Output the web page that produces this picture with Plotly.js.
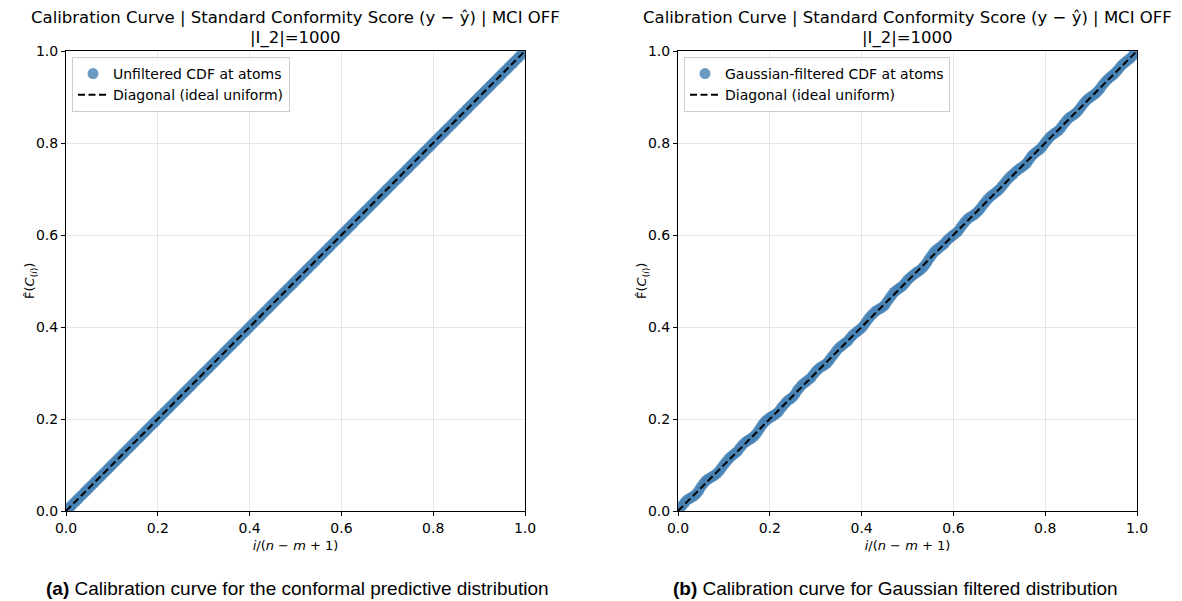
<!DOCTYPE html>
<html>
<head>
<meta charset="utf-8">
<script src="https://cdn.plot.ly/plotly-3.0.1.min.js"></script>
<style>html,body{margin:0;padding:0;background:#fff;}#chart{width:1182px;height:601px;}</style>
</head>
<body>
<div id="chart"></div>
<script>
// Levels i/(n-m+1) at which the CDFs are read (both panels)
const levels = [0.000,0.005,0.010,0.015,0.020,0.025,0.030,0.035,0.040,0.045,0.050,0.055,0.060,0.065,0.070,0.075,0.080,0.085,0.090,0.095,
0.100,0.105,0.110,0.115,0.120,0.125,0.130,0.135,0.140,0.145,0.150,0.155,0.160,0.165,0.170,0.175,0.180,0.185,0.190,0.195,
0.200,0.205,0.210,0.215,0.220,0.225,0.230,0.235,0.240,0.245,0.250,0.255,0.260,0.265,0.270,0.275,0.280,0.285,0.290,0.295,
0.300,0.305,0.310,0.315,0.320,0.325,0.330,0.335,0.340,0.345,0.350,0.355,0.360,0.365,0.370,0.375,0.380,0.385,0.390,0.395,
0.400,0.405,0.410,0.415,0.420,0.425,0.430,0.435,0.440,0.445,0.450,0.455,0.460,0.465,0.470,0.475,0.480,0.485,0.490,0.495,
0.500,0.505,0.510,0.515,0.520,0.525,0.530,0.535,0.540,0.545,0.550,0.555,0.560,0.565,0.570,0.575,0.580,0.585,0.590,0.595,
0.600,0.605,0.610,0.615,0.620,0.625,0.630,0.635,0.640,0.645,0.650,0.655,0.660,0.665,0.670,0.675,0.680,0.685,0.690,0.695,
0.700,0.705,0.710,0.715,0.720,0.725,0.730,0.735,0.740,0.745,0.750,0.755,0.760,0.765,0.770,0.775,0.780,0.785,0.790,0.795,
0.800,0.805,0.810,0.815,0.820,0.825,0.830,0.835,0.840,0.845,0.850,0.855,0.860,0.865,0.870,0.875,0.880,0.885,0.890,0.895,
0.900,0.905,0.910,0.915,0.920,0.925,0.930,0.935,0.940,0.945,0.950,0.955,0.960,0.965,0.970,0.975,0.980,0.985,0.990,0.995,1.000];

// Unfiltered CDF values: they sit on the diagonal
const unfilteredCdf = levels.slice();

// Gaussian-filtered CDF values (small wiggles about the diagonal)
const gaussianCdf = [0.000,0.007,0.013,0.019,0.024,0.027,0.030,0.033,0.037,0.044,0.052,0.059,0.065,0.069,0.072,0.075,0.078,0.082,0.087,0.094,
0.101,0.107,0.113,0.118,0.122,0.126,0.130,0.137,0.143,0.148,0.152,0.155,0.158,0.162,0.167,0.174,0.182,0.189,0.195,0.199,
0.203,0.206,0.209,0.212,0.217,0.224,0.230,0.236,0.241,0.244,0.248,0.254,0.262,0.268,0.274,0.278,0.282,0.286,0.290,0.297,
0.303,0.308,0.312,0.315,0.318,0.322,0.328,0.335,0.341,0.348,0.354,0.358,0.362,0.366,0.370,0.376,0.382,0.386,0.390,0.394,
0.398,0.404,0.411,0.418,0.424,0.429,0.434,0.437,0.440,0.443,0.447,0.454,0.461,0.468,0.475,0.479,0.483,0.486,0.490,0.496,
0.502,0.507,0.511,0.515,0.519,0.522,0.526,0.531,0.537,0.545,0.552,0.559,0.565,0.569,0.573,0.577,0.581,0.587,0.592,0.596,
0.600,0.604,0.608,0.615,0.622,0.628,0.634,0.638,0.641,0.644,0.648,0.653,0.659,0.666,0.672,0.678,0.683,0.687,0.691,0.695,
0.699,0.705,0.711,0.717,0.723,0.728,0.732,0.737,0.741,0.745,0.748,0.752,0.757,0.764,0.771,0.776,0.780,0.784,0.788,0.794,
0.801,0.807,0.813,0.817,0.821,0.824,0.828,0.834,0.841,0.847,0.853,0.857,0.860,0.864,0.868,0.874,0.881,0.887,0.893,0.897,
0.901,0.904,0.908,0.913,0.919,0.926,0.932,0.937,0.942,0.946,0.950,0.955,0.961,0.967,0.972,0.976,0.980,0.984,0.989,0.995,1.000];

const diagX = [0, 1];
const diagY = [0, 1];

const titleLine1 = "Calibration Curve | Standard Conformity Score (y \u2212 \u0177) | MCI OFF";
const titleLine2 = "|I_2|=1000";
const legendLeft = ["Unfiltered CDF at atoms", "Diagonal (ideal uniform)"];
const legendRight = ["Gaussian-filtered CDF at atoms", "Diagonal (ideal uniform)"];
const captionLeft = "<b>(a)</b> Calibration curve for the conformal predictive distribution";
const captionRight = "<b>(b)</b> Calibration curve for Gaussian filtered distribution";
const xTitle = "<i>i</i>/(<i>n</i> \u2212 <i>m</i> + 1)";
const yTitle = "F\u0302(<i>C</i><sub>(<i>i</i>)</sub>)";
const tickVals = [0, 0.2, 0.4, 0.6, 0.8, 1.0];
const tickText = ["0.0", "0.2", "0.4", "0.6", "0.8", "1.0"];

const W = 1182, H = 601;
const FONT = "DejaVu Sans, sans-serif";
const CAPFONT = "Liberation Sans, Arial, sans-serif";
const blue = "rgb(70,130,180)";

const pxX = p => p / W;
const pxY = p => 1 - p / H;

const markerStyle = {color: blue, size: 11, opacity: 0.8, line: {width: 0}};
const dashStyle = {color: "black", width: 2, dash: "7px,3.5px"};

const traces = [
  {x: levels, y: unfilteredCdf, type: "scatter", mode: "markers", name: legendLeft[0],
   marker: markerStyle, xaxis: "x", yaxis: "y", legend: "legend", hoverinfo: "skip"},
  {x: diagX, y: diagY, type: "scatter", mode: "lines", name: legendLeft[1],
   line: dashStyle, xaxis: "x", yaxis: "y", legend: "legend"},
  {x: levels, y: gaussianCdf, type: "scatter", mode: "markers", name: legendRight[0],
   marker: markerStyle, xaxis: "x2", yaxis: "y2", legend: "legend2", hoverinfo: "skip"},
  {x: diagX, y: diagY, type: "scatter", mode: "lines", name: legendRight[1],
   line: dashStyle, xaxis: "x2", yaxis: "y2", legend: "legend2"}
];

function axis(domain, anchor, titleText) {
  const a = {
    domain: domain, anchor: anchor, range: [0, 1], autorange: false,
    tickvals: tickVals, ticktext: tickText, ticks: "outside", ticklen: 4, tickwidth: 1, tickcolor: "black",
    showline: true, linecolor: "black", linewidth: 1, mirror: true,
    showgrid: true, gridcolor: "rgba(176,176,176,0.3)", gridwidth: 1, zeroline: false,
    tickfont: {family: FONT, size: 14, color: "black"}
  };
  if (titleText) a.title = {text: titleText, font: {family: FONT, size: 13, color: "black"}, standoff: 6};
  return a;
}

const xd1 = [pxX(66), pxX(525)], xd2 = [pxX(678), pxX(1137)];
const yd = [pxY(511), pxY(51)];

const legendBase = {
  bgcolor: "rgba(255,255,255,0.8)", bordercolor: "#cccccc", borderwidth: 1,
  font: {family: FONT, size: 14, color: "black"}, xanchor: "left", yanchor: "top",
  tracegroupgap: 0, itemwidth: 30
};

const annotations = [];
[295.5, 907.5].forEach(cx => {
  annotations.push({text: titleLine1, x: pxX(cx), y: pxY(18), xref: "paper", yref: "paper",
    showarrow: false, xanchor: "center", yanchor: "middle", font: {family: FONT, size: 16.5, color: "black"}});
  annotations.push({text: titleLine2, x: pxX(cx), y: pxY(38), xref: "paper", yref: "paper",
    showarrow: false, xanchor: "center", yanchor: "middle", font: {family: FONT, size: 16.5, color: "black"}});
});
// y-axis titles, rotated
[30, 642].forEach(cx => {
  annotations.push({text: yTitle, x: pxX(cx), y: pxY(281), xref: "paper", yref: "paper", textangle: -90,
    showarrow: false, xanchor: "center", yanchor: "middle", font: {family: FONT, size: 13, color: "black"}});
});
annotations.push({text: captionLeft, x: pxX(297.5), y: pxY(588), xref: "paper", yref: "paper",
  showarrow: false, xanchor: "center", yanchor: "middle", font: {family: CAPFONT, size: 19, color: "black"}});
annotations.push({text: captionRight, x: pxX(895.5), y: pxY(588), xref: "paper", yref: "paper",
  showarrow: false, xanchor: "center", yanchor: "middle", font: {family: CAPFONT, size: 19, color: "black"}});

const layout = {
  width: W, height: H, margin: {l: 0, r: 0, t: 0, b: 0},
  paper_bgcolor: "white", plot_bgcolor: "white", showlegend: true,
  xaxis: axis(xd1, "y", xTitle), yaxis: axis(yd, "x", null),
  xaxis2: axis(xd2, "y2", xTitle), yaxis2: axis(yd, "x2", null),
  legend: Object.assign({}, legendBase, {x: pxX(72), y: pxY(57)}),
  legend2: Object.assign({}, legendBase, {x: pxX(684), y: pxY(57)}),
  annotations: annotations
};

Plotly.newPlot("chart", traces, layout, {displayModeBar: false, staticPlot: true});
</script>
</body>
</html>
